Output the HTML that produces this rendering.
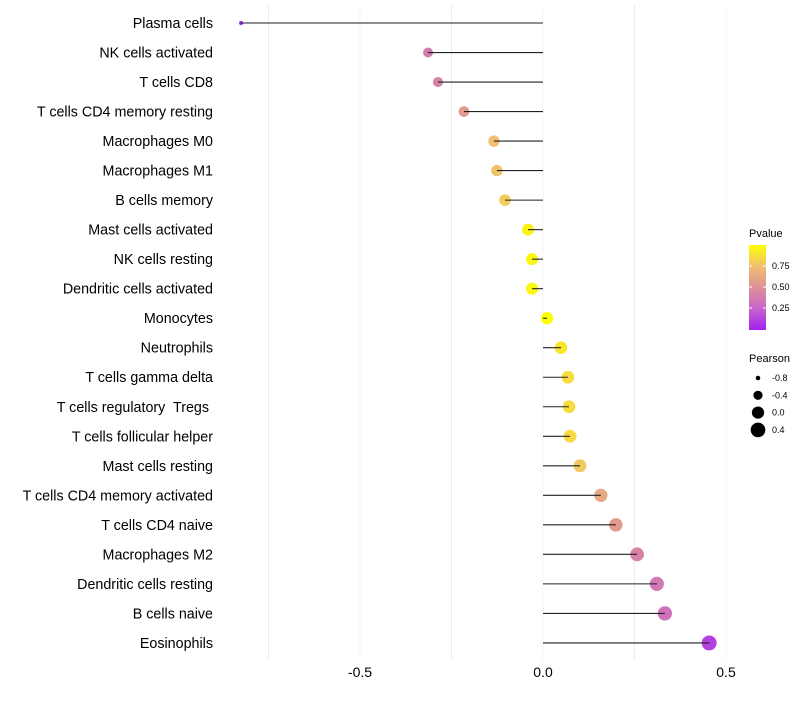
<!DOCTYPE html>
<html><head><meta charset="utf-8"><style>
body{margin:0;background:#fff;font-family:"Liberation Sans",sans-serif}
svg text{font-family:"Liberation Sans",sans-serif;white-space:pre}
</style></head><body>
<svg id="chart" width="800" height="700" xmlns="http://www.w3.org/2000/svg"></svg>
<script>
const categories=["Plasma cells","NK cells activated","T cells CD8","T cells CD4 memory resting","Macrophages M0","Macrophages M1","B cells memory","Mast cells activated","NK cells resting","Dendritic cells activated","Monocytes","Neutrophils","T cells gamma delta","T cells regulatory  Tregs ","T cells follicular helper","Mast cells resting","T cells CD4 memory activated","T cells CD4 naive","Macrophages M2","Dendritic cells resting","B cells naive","Eosinophils"];
const pearson=[-0.825,-0.314,-0.287,-0.216,-0.134,-0.126,-0.104,-0.041,-0.030,-0.030,0.011,0.049,0.068,0.071,0.074,0.101,0.158,0.199,0.257,0.311,0.333,0.454];
const pvalue=[0.0,0.38,0.42,0.55,0.75,0.76,0.8,0.95,0.96,0.96,1.0,0.9,0.86,0.86,0.85,0.78,0.62,0.55,0.42,0.36,0.33,0.12];
const xTicks=[-0.5,0,0.5];
const xTickLabels=["-0.5","0.0","0.5"];
const minorTicks=[-0.75,-0.25,0.25];
const pTicks=[0.25,0.5,0.75];
const sizeTicks=[-0.8,-0.4,0.0,0.4];

const NS="http://www.w3.org/2000/svg";
const svg=document.getElementById('chart');
function mk(t,a,parent){const e=document.createElementNS(NS,t);for(const k in a)e.setAttribute(k,a[k]);(parent||svg).appendChild(e);return e;}
const x=v=>543+v*366;
const y=i=>23+i*29.52;
const stops=[[0,[160,32,240]],[0.25,[200,100,205]],[0.5,[222,145,150]],[0.75,[240,192,112]],[1,[255,255,0]]];
function col(p){for(let i=1;i<stops.length;i++){if(p<=stops[i][0]){const a=stops[i-1],b=stops[i],t=(p-a[0])/(b[0]-a[0]);return 'rgb('+a[1].map((c,j)=>Math.round(c+(b[1][j]-c)*t)).join(',')+')';}}return 'rgb(255,255,0)';}
const r=v=>Math.sqrt(Math.max(1,4+40.6*(v+0.825)));

minorTicks.forEach(v=>{const l=mk('line',{x1:x(v),x2:x(v),y1:5,y2:660,stroke:'#ebebeb','stroke-width':1});});
xTicks.forEach((v,i)=>{const l=mk('line',{x1:x(v),x2:x(v),y1:5,y2:660,stroke:'#f4f4f4','stroke-width':1});
const t=mk('text',{x:x(v),y:677,'font-size':14,'text-anchor':'middle',fill:'#000'});t.textContent=xTickLabels[i];});

categories.forEach((c,i)=>{
 const t=mk('text',{x:213,y:y(i)+5,'font-size':14.3,'text-anchor':'end',fill:'#000'});t.textContent=c;
 
 const p=mk('circle',{cx:x(pearson[i]),cy:y(i),r:r(pearson[i]),fill:col(pvalue[i])});
 
 const s=mk('line',{x1:x(0),x2:x(pearson[i]),y1:y(i),y2:y(i),stroke:'#222','stroke-width':1.1});
 
});

const defs=mk('defs',{});const g=mk('linearGradient',{id:'pg',x1:0,y1:1,x2:0,y2:0},defs);
stops.forEach(s=>mk('stop',{offset:s[0],'stop-color':'rgb('+s[1].join(',')+')'},g));
let t=mk('text',{x:749,y:237,'font-size':11});t.textContent='Pvalue';
const bar=mk('rect',{x:749,y:245,width:17,height:85,fill:'url(#pg)'});
pTicks.forEach(v=>{const yy=329-v*84;mk('line',{x1:749,x2:752,y1:yy,y2:yy,stroke:'#fff'});mk('line',{x1:763,x2:766,y1:yy,y2:yy,stroke:'#fff'});
 const tt=mk('text',{x:772,y:yy+3,'font-size':9});tt.textContent=v.toFixed(2);});
t=mk('text',{x:749,y:362,'font-size':11});t.textContent='Pearson';
sizeTicks.forEach((v,i)=>{const yy=378+i*17.3;const c=mk('circle',{cx:758,cy:yy,r:r(v),fill:'#000'});
 const tt=mk('text',{x:772,y:yy+3,'font-size':9});tt.textContent=v.toFixed(1);});
</script>
</body></html>
